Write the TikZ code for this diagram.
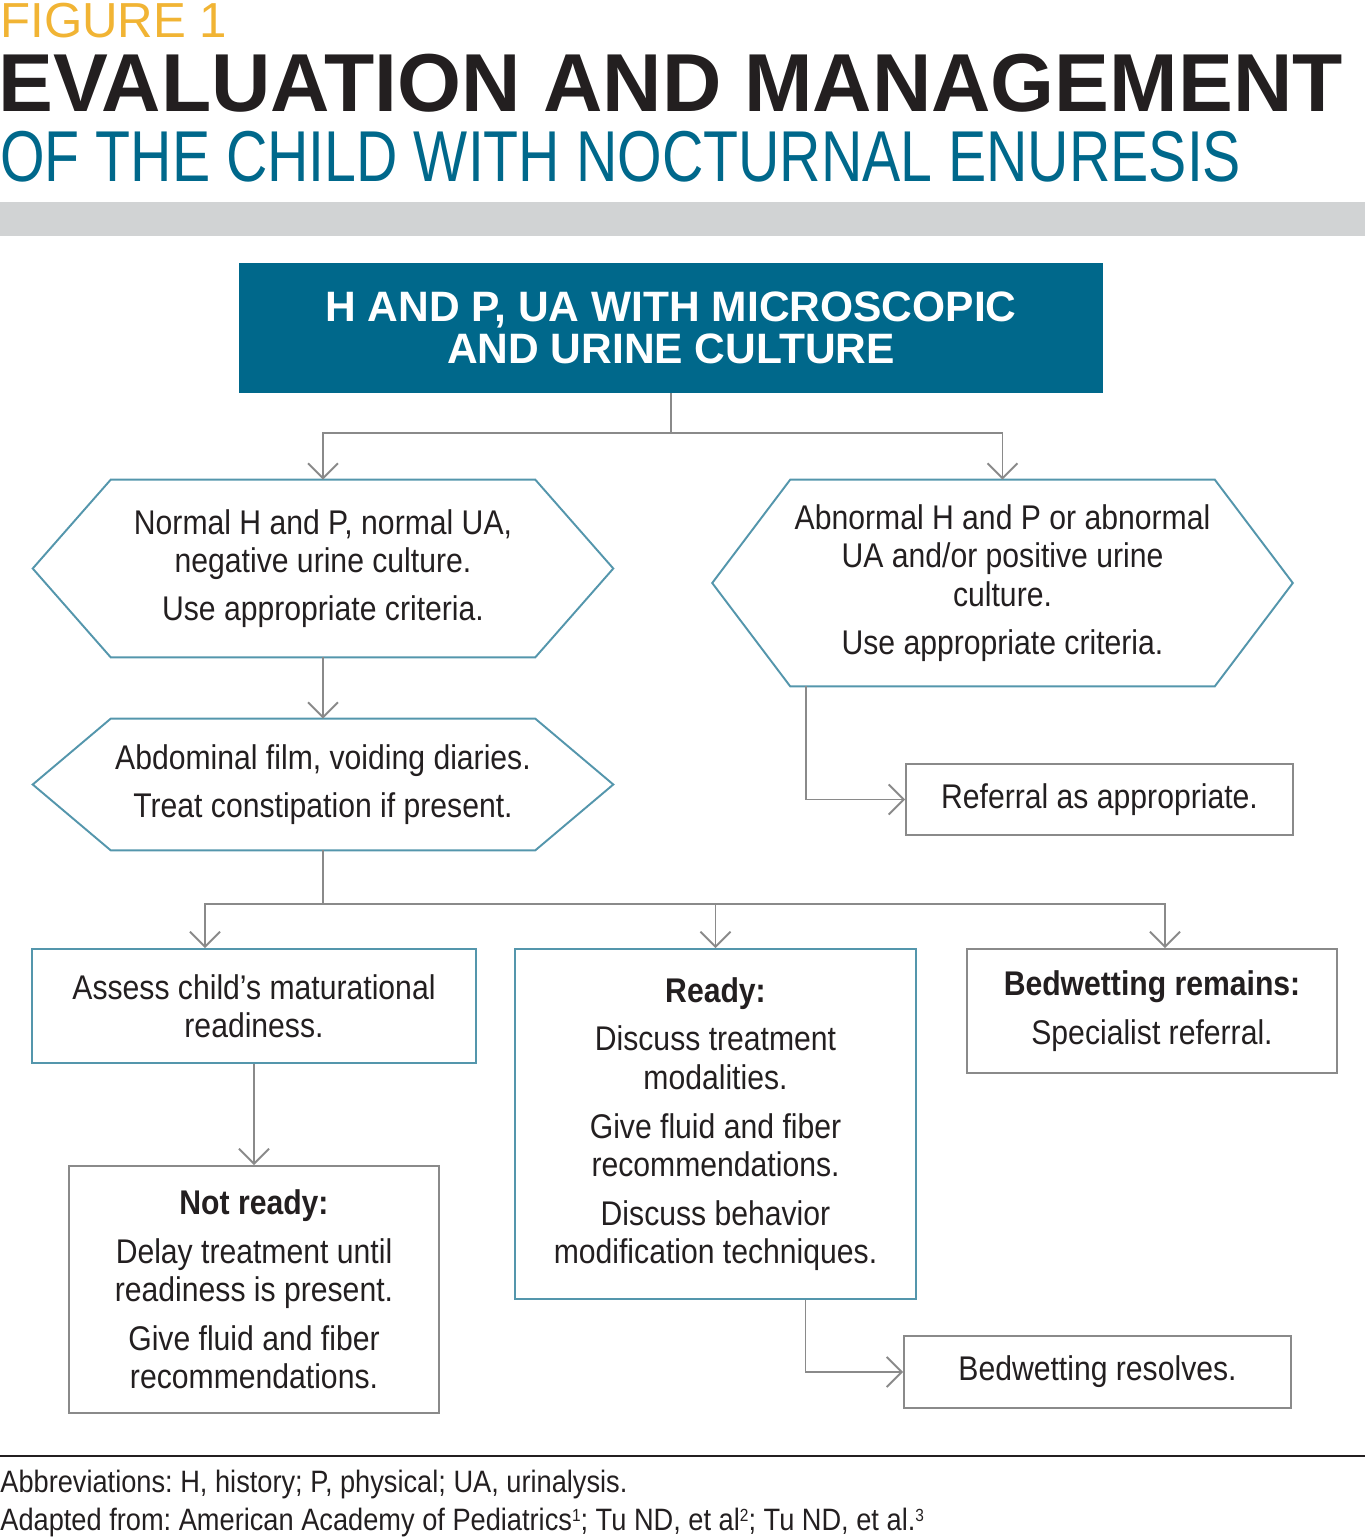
\documentclass[tikz,border=0pt]{standalone}
\usepackage{fontspec}
\setmainfont{Liberation Sans}[FakeStretch=0.88]
\newfontfamily\headfont{Liberation Sans}
\newfontfamily\thinfont{Liberation Sans}[FakeStretch=0.795]
\usepackage{xcolor}
\usepackage{tikz}
\usetikzlibrary{arrows.meta,positioning,calc}
\frenchspacing

\definecolor{headblue}{RGB}{0,104,139}
\definecolor{edgeteal}{RGB}{84,150,172}
\definecolor{edgegray}{RGB}{138,138,138}
\definecolor{figyellow}{RGB}{241,180,52}
\definecolor{barGray}{RGB}{209,211,212}
\definecolor{inkblack}{RGB}{35,31,32}

\newcommand{\hexframe}[1]{%
  \draw[hexline] (#1.west) -- ($(#1.north west)+(78,0)$) -- ($(#1.north east)+(-78,0)$)
    -- (#1.east) -- ($(#1.south east)+(-78,0)$) -- ($(#1.south west)+(78,0)$) -- cycle;}
\newcommand{\refmark}[1]{\raisebox{0.55ex}{\fontsize{10}{10}\selectfont #1}}

\begin{document}
\begin{tikzpicture}[x=0.02cm, y=-0.02cm,
  every node/.style={text=inkblack},
  txt/.style={align=center, inner sep=0pt, font=\fontsize{19.5}{21.8}\selectfont},
  hexbox/.style={txt, minimum width=11.6cm},
  hexline/.style={draw=edgeteal, line width=1.1pt, line join=miter},
  tealbox/.style={txt, draw=edgeteal, line width=1.1pt},
  graybox/.style={txt, draw=edgegray, line width=1.1pt},
  conn/.style={draw=edgegray, line width=1.1pt, -{Straight Barb[length=3mm, width=6mm, line width=1.1pt]}}]
\useasboundingbox (0,0) rectangle (1365,1537);

% heading
\node[anchor=base west, inner sep=0pt, text=figyellow, font=\headfont\fontsize{28}{28}\selectfont] (fig) at (0,38) {FIGURE 1};
\node[anchor=base west, inner sep=0pt, font=\headfont\bfseries\fontsize{46.8}{46.8}\selectfont] (title) at (-2,112) {EVALUATION AND MANAGEMENT};
\node[anchor=base west, inner sep=0pt, text=headblue, font=\thinfont\fontsize{41}{41}\selectfont] (subtitle) at (0,182) {OF THE CHILD WITH NOCTURNAL ENURESIS};
\fill[barGray] (0,202) rectangle (1365,236);

\node[txt, fill=headblue, text=white, minimum width=17.28cm, minimum height=2.6cm,
  font=\headfont\bfseries\fontsize{24.2}{24.2}\selectfont] (hp) at (671,328)
  {H AND P, UA WITH MICROSCOPIC\\AND URINE CULTURE};

\node[hexbox, minimum height=3.54cm] (normal) at (323,568.5)
  {Normal H and P, normal UA,\\negative urine culture.\\[5.5pt]Use appropriate criteria.};
\hexframe{normal}
\node[hexbox, minimum height=4.12cm] (abnormal) at (1002.5,583)
  {Abnormal H and P or abnormal\\UA and/or positive urine\\culture.\\[5.5pt]Use appropriate criteria.};
\hexframe{abnormal}
\node[hexbox, minimum height=2.62cm] (film) at (323,784.5)
  {Abdominal film, voiding diaries.\\[5.5pt]Treat constipation if present.};
\hexframe{film}

\node[graybox, minimum width=7.74cm, minimum height=1.42cm] (refer) at (1099.5,799.5) {Referral as appropriate.};
\node[tealbox, minimum width=8.88cm, minimum height=2.28cm] (assess) at (254,1006)
  {Assess child’s maturational\\readiness.};
\node[tealbox, minimum width=8.02cm, minimum height=7cm] (ready) at (715.5,1124)
  {\textbf{Ready:}\\[6pt]Discuss treatment\\modalities.\\[6pt]Give fluid and fiber\\recommendations.\\[6pt]Discuss behavior\\modification techniques.};
\node[graybox, minimum width=7.4cm, minimum height=2.48cm] (remains) at (1152,1011)
  {\textbf{Bedwetting remains:}\\[6pt]Specialist referral.};
\node[graybox, minimum width=7.4cm, minimum height=4.94cm] (notready) at (254,1289.5)
  {\textbf{Not ready:}\\[6pt]Delay treatment until\\readiness is present.\\[6pt]Give fluid and fiber\\recommendations.};
\node[graybox, minimum width=7.74cm, minimum height=1.44cm] (resolves) at (1097.5,1372) {Bedwetting resolves.};

% connectors
\draw[conn] (hp.south) -- ++(0,40) -| (normal.north);
\draw[conn] (hp.south) -- ++(0,40) -| (abnormal.north);
\draw[conn] (normal.south) -- (film.north);
\draw[conn] ($(abnormal.south west)+(94,0)$) |- (refer.west);
\draw[conn] (film.south) -- ++(0,54) -| ($(assess.north)+(-49,0)$);
\draw[conn] (film.south) -- ++(0,54) -| (ready.north);
\draw[conn] (film.south) -- ++(0,54) -| ($(remains.north)+(13,0)$);
\draw[conn] (assess.south) -- (notready.north);
\draw[conn] ($(ready.south)+(90,0)$) |- (resolves.west);

% footnotes
\draw[inkblack, line width=1.1pt] (0,1456) -- (1365,1456);
\node[anchor=base west, inner sep=0pt, font=\fontsize{17.6}{20}\selectfont] (abbr) at (0,1492)
  {Abbreviations: H, history; P, physical; UA, urinalysis.};
\node[anchor=base west, inner sep=0pt, font=\fontsize{17.6}{20}\selectfont] (source) at (0,1530)
  {Adapted from: American Academy of Pediatrics\refmark{1}; Tu ND, et al\refmark{2}; Tu ND, et al.\refmark{3}};
\end{tikzpicture}
\end{document}
